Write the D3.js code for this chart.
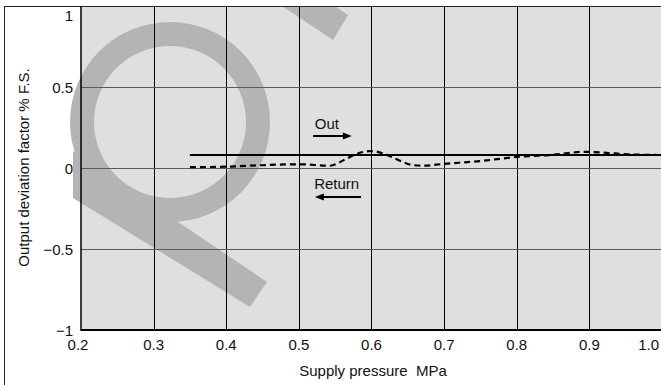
<!DOCTYPE html>
<html>
<head>
<meta charset="utf-8">
<script src="https://cdn.jsdelivr.net/npm/d3@7/dist/d3.min.js"></script>
<style>
  html, body { margin: 0; padding: 0; background: #fff; }
  svg { display: block; font-family: "Liberation Sans", Arial, sans-serif; }
</style>
</head>
<body>
<svg id="chart" width="661" height="385"></svg>
<script>
// ---- data ----
const xTicks = [0.2, 0.3, 0.4, 0.5, 0.6, 0.7, 0.8, 0.9, 1.0];
const xTickLabels = ["0.2", "0.3", "0.4", "0.5", "0.6", "0.7", "0.8", "0.9", "1.0"];
const yTicks = [-1, -0.5, 0, 0.5, 1];
const yTickLabels = ["\u22121", "\u22120.5", "0", "0.5", "1"];

const outX = [0.35, 1.0];
const outY = [0.08, 0.08];

const returnX = [0.35, 0.364, 0.40, 0.447, 0.50, 0.543, 0.564, 0.584, 0.60, 0.619, 0.64, 0.657, 0.671, 0.699, 0.75, 0.80, 0.846, 0.873, 0.89, 0.92, 0.952, 1.0];
const returnY = [0.006, 0.006, 0.008, 0.017, 0.023, 0.014, 0.054, 0.094, 0.105, 0.085, 0.043, 0.018, 0.014, 0.025, 0.043, 0.068, 0.08, 0.093, 0.10, 0.095, 0.085, 0.08];

const xTitle = "Supply pressure\u00a0\u00a0MPa";
const yTitle = "Output deviation factor % F.S.";
const outLabel = "Out";
const returnLabel = "Return";

// ---- layout ----
const svg = d3.select("#chart");
const x = d3.scaleLinear().domain([0.2, 1.0]).range([81, 662]);
const y = d3.scaleLinear().domain([-1, 1]).range([330, 6]);

const INK = "#000";
const PLOT_BG = "#dfdfdf";
const WM = "#b4b4b4";

// outer frame (left edge)
svg.append("line").attr("x1", 4.5).attr("x2", 4.5).attr("y1", 6).attr("y2", 385)
  .attr("stroke", "#222").attr("stroke-width", 1);

// plot background
svg.append("rect").attr("x", x(0.2)).attr("y", y(1)).attr("width", 661 - x(0.2)).attr("height", y(-1) - y(1))
  .attr("fill", PLOT_BG);

// watermark (decorative)
const defs = svg.append("defs");
defs.append("clipPath").attr("id", "wmclip").append("rect")
  .attr("x", 4).attr("y", 6).attr("width", 657).attr("height", 379);
const wm = svg.append("g").attr("clip-path", "url(#wmclip)").attr("fill", WM);
const ringArc = d3.arc().innerRadius(76).outerRadius(100).startAngle(0).endAngle(2 * Math.PI);
wm.append("path").attr("transform", "translate(170,122)").attr("d", ringArc());
wm.append("path").attr("d", "M73,151 L267,282 L250,307 L73,198 Z");
wm.append("path").attr("d", "M273,0 L326,0 L348,15 L333,40 Z");

// grid
const grid = svg.append("g");
xTicks.slice(1).forEach(v => {
  grid.append("line").attr("x1", Math.round(x(v)) + 0.5).attr("x2", Math.round(x(v)) + 0.5)
    .attr("y1", y(1)).attr("y2", y(-1)).attr("stroke", INK).attr("stroke-width", 1);
});
[-0.5, 0, 0.5].forEach(v => {
  grid.append("line").attr("x1", x(0.2)).attr("x2", 661)
    .attr("y1", Math.round(y(v)) + 0.5).attr("y2", Math.round(y(v)) + 0.5)
    .attr("stroke", "#5a5a5a").attr("stroke-width", 1.2);
});
// top frame line
svg.append("line").attr("x1", 4).attr("x2", 661).attr("y1", 6.5).attr("y2", 6.5)
  .attr("stroke", "#222").attr("stroke-width", 1);

// axes lines
svg.append("line").attr("x1", x(0.2)).attr("x2", x(0.2)).attr("y1", y(1)).attr("y2", y(-1) + 1)
  .attr("stroke", INK).attr("stroke-width", 1.5);
svg.append("line").attr("x1", x(0.2)).attr("x2", 661).attr("y1", y(-1)).attr("y2", y(-1))
  .attr("stroke", INK).attr("stroke-width", 2);

// tick labels
const fs = 15;
const xl = svg.append("g").attr("font-size", fs).attr("fill", "#111");
xTicks.forEach((v, i) => {
  const last = i === xTicks.length - 1;
  xl.append("text")
    .attr("x", last ? 659 : (i === 0 ? x(v) - 3 : x(v)))
    .attr("y", 349.5)
    .attr("text-anchor", last ? "end" : "middle")
    .text(xTickLabels[i]);
});
yTicks.forEach((v, i) => {
  const top = v === 1;
  xl.append("text")
    .attr("x", 73).attr("y", top ? 21 : y(v) + 6)
    .attr("text-anchor", "end")
    .text(yTickLabels[i]);
});

// axis titles
svg.append("text").attr("x", 373).attr("y", 376).attr("text-anchor", "middle")
  .attr("font-size", fs).attr("fill", "#111").text(xTitle);
svg.append("text").attr("transform", "translate(29,167.5) rotate(-90)").attr("text-anchor", "middle")
  .attr("font-size", fs).attr("fill", "#111").text(yTitle);

// series
const lineGen = d3.line().x(d => x(d[0])).y(d => y(d[1]));
svg.append("path")
  .datum(outX.map((v, i) => [v, outY[i]]))
  .attr("d", lineGen).attr("fill", "none").attr("stroke", INK).attr("stroke-width", 2);

const curveGen = d3.line().x(d => x(d[0])).y(d => y(d[1])).curve(d3.curveMonotoneX);
svg.append("path")
  .datum(returnX.map((v, i) => [v, returnY[i]]))
  .attr("d", curveGen).attr("fill", "none").attr("stroke", INK).attr("stroke-width", 2.2)
  .attr("stroke-dasharray", "6,4");

// annotations
function arrow(x1, x2, yy) {
  const px1 = x(x1), px2 = x(x2), py = y(yy);
  const dir = Math.sign(px2 - px1);
  svg.append("line").attr("x1", px1).attr("x2", px2 - dir * 6).attr("y1", py).attr("y2", py)
    .attr("stroke", INK).attr("stroke-width", 2);
  svg.append("path")
    .attr("d", `M${px2},${py} L${px2 - dir * 9},${py - 3.5} L${px2 - dir * 9},${py + 3.5} Z`)
    .attr("fill", INK);
}
svg.append("text").attr("x", x(0.522)).attr("y", y(0.241)).attr("font-size", fs).attr("fill", "#111").text(outLabel);
arrow(0.5195, 0.573, 0.198);
svg.append("text").attr("x", x(0.521)).attr("y", y(-0.130)).attr("font-size", fs).attr("fill", "#111").text(returnLabel);
arrow(0.5855, 0.522, -0.179);
</script>
</body>
</html>
